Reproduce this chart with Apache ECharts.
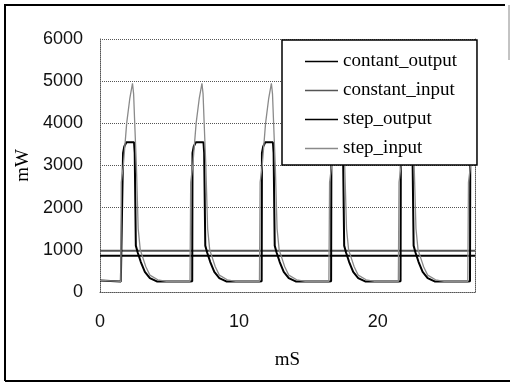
<!DOCTYPE html>
<html>
<head>
<meta charset="utf-8">
<script src="https://cdn.jsdelivr.net/npm/echarts@6/dist/echarts.min.js"></script>
<style>
	html, body { margin: 0; padding: 0; background: #fff; }
	#chart { width: 510px; height: 383px; }
</style>
</head>
<body>
<div id="chart"></div>
<script>
	// 坐标轴范围
	var xMin = 0, xMax = 27, xStep = 10;
	var yMin = 0, yMax = 6000, yStep = 1000;

	// 恒定负载：输入 / 输出功率 (mW)
	var constantInputValue = 980;
	var contantOutputValue = 860;

	// 阶跃负载脉冲起点 (mS)
	var pulseStarts = [1.5, 6.5, 11.5, 16.5, 21.5, 26.5];
	var startValue = [0, 275];

	// 单个脉冲：相对起点的时间 (mS) 与功率 (mW)
	var stepInputOffsets = [0, 0.03, 0.18, 0.42, 0.65, 0.84, 0.92, 1.0, 1.12, 1.25, 1.4, 1.56, 1.8, 2.09, 2.66, 3.28, 4.98];
	var stepInputValues  = [250, 2600, 3000, 4000, 4600, 4950, 4700, 4000, 3000, 1500, 1000, 840, 600, 400, 290, 250, 250];

	var stepOutputOffsets = [0, 0.14, 0.16, 0.25, 0.4, 0.95, 1.0, 1.08, 1.22, 1.44, 1.73, 2.09, 2.59, 4.98];
	var stepOutputValues  = [250, 255, 3300, 3450, 3550, 3550, 3300, 1100, 930, 710, 480, 330, 250, 250];

	function $each(arr, fn) {
		for (var i = 0; i < arr.length; i++) {
			fn(arr[i], i);
		}
	}
	var buildPulses = function(offsets, values) {
		var data = [startValue.slice()];
		$each(pulseStarts, function(start) {
			for (var i = 0; i < offsets.length; i++) {
				data.push([start + offsets[i], values[i]]);
			}
		});
		return data;
	};

	var dotted = { color: '#555', width: 1, type: [1, 1] };

	var lineSery = function(name, data, color, width) {
		return {
			name : name,
			type : 'line',
			data : data,
			symbol : 'none',
			animation : false,
			lineStyle : { color : color, width : width },
			itemStyle : { color : color }
		};
	};

	var series = [];
	series.push(lineSery('contant_output', [[xMin, contantOutputValue], [xMax, contantOutputValue]], '#000', 2));
	series.push(lineSery('constant_input', [[xMin, constantInputValue], [xMax, constantInputValue]], '#555', 2));
	series.push(lineSery('step_output', buildPulses(stepOutputOffsets, stepOutputValues), '#000', 2));
	series.push(lineSery('step_input', buildPulses(stepInputOffsets, stepInputValues), '#8a8a8a', 1.3));

	var options = {
		animation : false,
		grid : {
			left : 100,
			top : 39,
			right : 35,
			bottom : 91
		},
		legend : {
			orient : 'vertical',
			left : 282,
			top : 40,
			padding : [12, 20, 7, 23],
			icon : 'rect',
			itemWidth : 33,
			itemHeight : 1.5,
			itemGap : 10,
			backgroundColor : '#fff',
			borderColor : '#000',
			borderWidth : 1.5,
			borderRadius : 0,
			textStyle : {
				fontFamily : 'Liberation Serif',
				fontSize : 19,
				lineHeight : 19,
				color : '#000'
			},
			data : [ 'contant_output', 'constant_input', 'step_output', 'step_input' ]
		},
		xAxis : [ {
			type : 'value',
			min : xMin,
			max : xMax,
			interval : xStep,
			name : 'mS',
			nameLocation : 'middle',
			nameGap : 59,
			nameTextStyle : { fontFamily : 'Liberation Serif', fontSize : 19, color : '#000' },
			axisLine : { show : true, lineStyle : dotted },
			axisTick : { show : false },
			splitLine : { show : false },
			axisLabel : {
				margin : 21,
				fontFamily : 'Liberation Sans',
				fontSize : 18,
				color : '#111',
				showMaxLabel : false
			}
		} ],
		yAxis : [ {
			type : 'value',
			min : yMin,
			max : yMax,
			interval : yStep,
			name : 'mW',
			nameLocation : 'middle',
			nameRotate : 90,
			nameGap : 59,
			nameTextStyle : { fontFamily : 'Liberation Serif', fontSize : 19, color : '#000' },
			axisLine : { show : true, lineStyle : dotted },
			axisTick : { show : false },
			splitLine : { show : true, lineStyle : dotted },
			axisLabel : {
				margin : 17,
				fontFamily : 'Liberation Sans',
				fontSize : 18,
				color : '#111',
				formatter : function(value) {
					return String(value);
				}
			}
		}, {
			type : 'value',
			min : yMin,
			max : yMax,
			interval : yStep,
			position : 'right',
			axisLine : { show : true, lineStyle : dotted },
			axisTick : { show : false },
			axisLabel : { show : false },
			splitLine : { show : false }
		} ],
		graphic : [
			{ type : 'line', shape : { x1 : 5, y1 : 4, x2 : 5, y2 : 381 }, style : { stroke : '#000', lineWidth : 2 } },
			{ type : 'line', shape : { x1 : 5, y1 : 5, x2 : 505, y2 : 5 }, style : { stroke : '#000', lineWidth : 2 } },
			{ type : 'line', shape : { x1 : 5, y1 : 381, x2 : 510, y2 : 381 }, style : { stroke : '#000', lineWidth : 2 } },
			{ type : 'line', shape : { x1 : 509, y1 : 5, x2 : 509, y2 : 60 }, style : { stroke : '#888', lineWidth : 1 } }
		],
		series : series
	};

	var chart = echarts.init(document.getElementById('chart'));
	chart.setOption(options);
</script>
</body>
</html>
